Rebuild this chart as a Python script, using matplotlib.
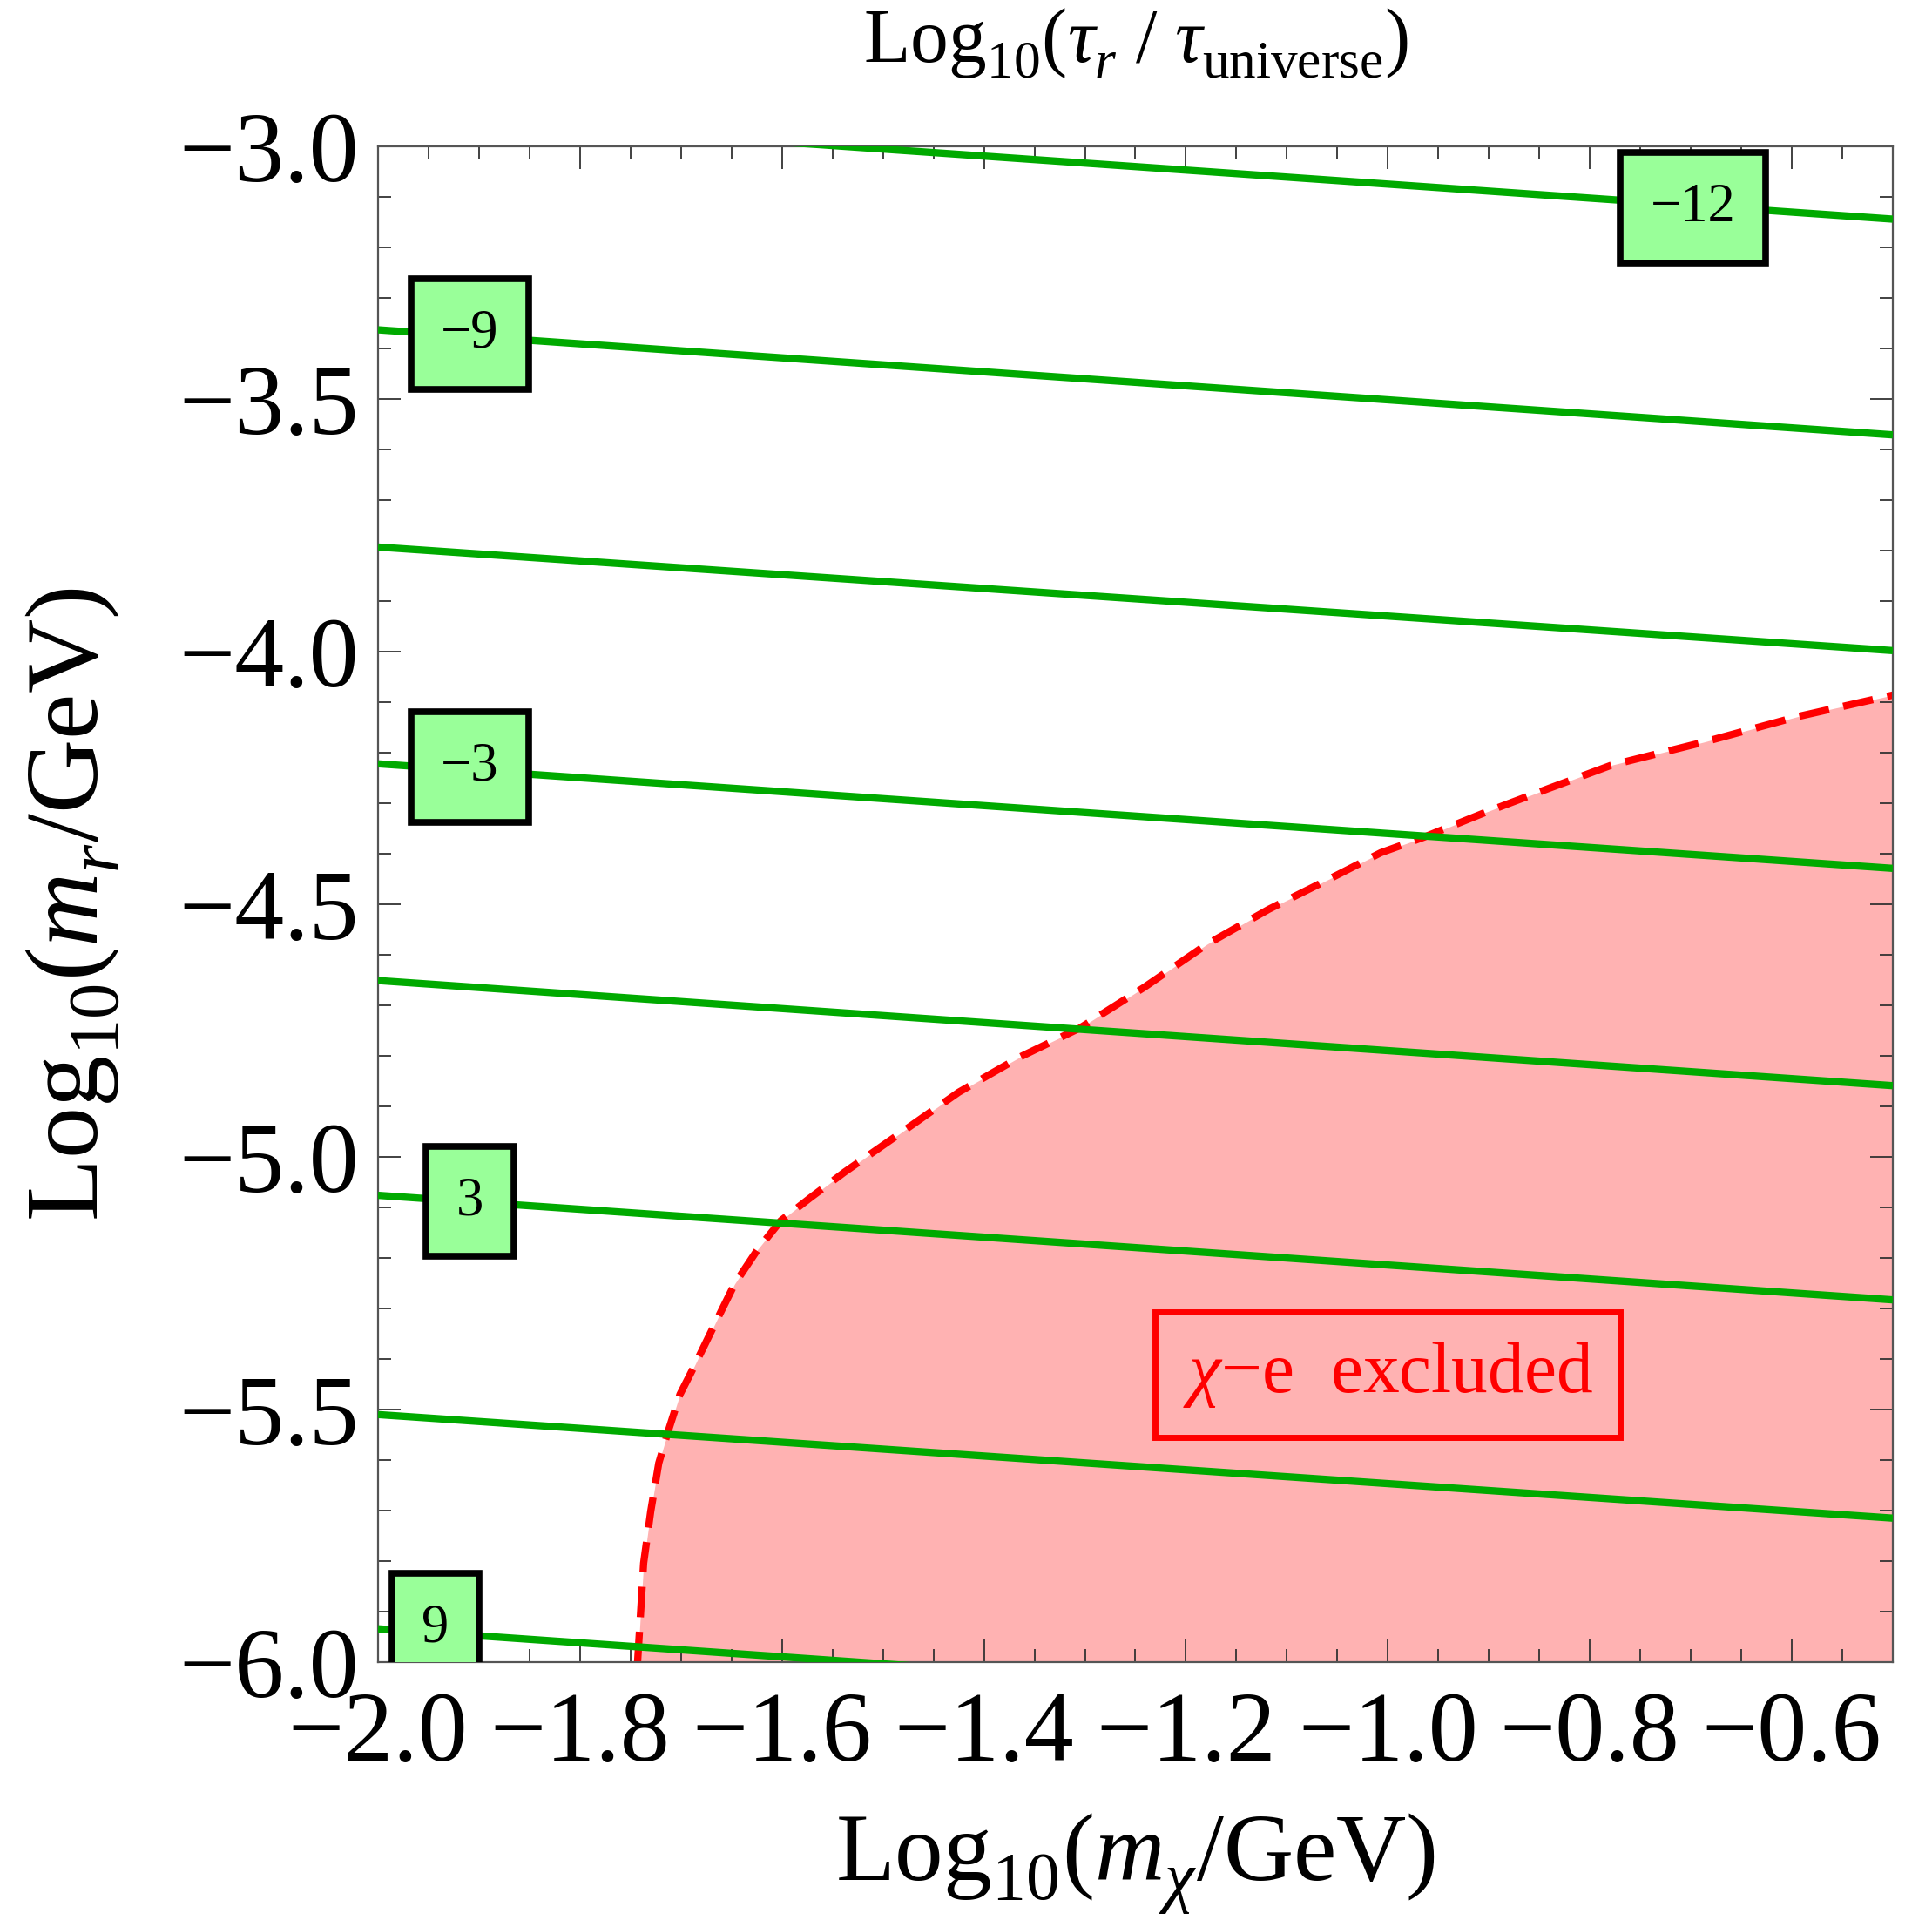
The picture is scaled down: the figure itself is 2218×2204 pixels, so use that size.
import numpy as np
import matplotlib
matplotlib.use("Agg")
import matplotlib.pyplot as plt
from matplotlib.ticker import MultipleLocator, FuncFormatter

plt.rcParams["font.family"] = ["Liberation Serif", "DejaVu Serif"]
plt.rcParams["mathtext.fontset"] = "custom"
plt.rcParams["mathtext.rm"] = "Liberation Serif"
plt.rcParams["mathtext.it"] = "Liberation Serif:italic"
plt.rcParams["mathtext.bf"] = "Liberation Serif:bold"

# Mathematica-style subscripts sit lower than matplotlib's default
try:
    from matplotlib import _mathtext
    _mathtext.FontConstantsBase.sub1 = 0.45
except Exception:
    pass

# ── Data ────────────────────────────────────────────────────────────────────
# contour lines of Log10(tau_r / tau_universe): y at x=-2.0 and at x=-0.5
contour_levels = [-12, -9, -6, -3, 0, 3, 6, 9]
contour_x      = [-2.0, -0.5]
contour_y_left  = [-2.936, -3.363, -3.793, -4.222, -4.651, -5.076, -5.510, -5.934]
contour_y_right = [-3.144, -3.571, -3.998, -4.429, -4.859, -5.283, -5.715, -6.142]

# contour labels (only some levels are labelled)
label_text = ["\u221212", "\u22129", "\u22123", "3", "9"]
label_x    = [-0.698, -1.909, -1.909, -1.909, -1.943]
label_y    = [-3.122, -3.372, -4.229, -5.088, -5.934]

# chi-e exclusion boundary
excl_x = [-1.743, -1.737, -1.730, -1.722, -1.713, -1.701, -1.687, -1.667,
          -1.647, -1.624, -1.601, -1.572, -1.538, -1.492, -1.425, -1.364,
          -1.305, -1.241, -1.179, -1.118, -1.056, -1.007, -0.964, -0.902,
          -0.841, -0.779, -0.687, -0.595, -0.500]
excl_y = [-6.000, -5.804, -5.702, -5.606, -5.545, -5.470, -5.415, -5.333,
          -5.252, -5.183, -5.126, -5.081, -5.030, -4.966, -4.872, -4.802,
          -4.745, -4.664, -4.579, -4.510, -4.448, -4.398, -4.367, -4.317,
          -4.271, -4.225, -4.179, -4.129, -4.086]

GREEN = "#00aa00"
PINK = "#ffb2b2"
LABEL_FILL = "#99ff99"

fig = plt.figure(figsize=(22.18, 22.04), dpi=100)
ax = fig.add_axes([0.19567, 0.13430, 0.78404, 0.78947])

# ── Excluded region ─────────────────────────────────────────────────────────
ax.fill_between(excl_x, excl_y, -6.0, color=PINK, lw=0, zorder=1)
ax.plot(excl_x, excl_y, color="red", lw=6, dashes=(4.2, 2.0), zorder=2)

# ── Contour lines ───────────────────────────────────────────────────────────
for lvl, y0, y1 in zip(contour_levels, contour_y_left, contour_y_right):
    ax.plot(contour_x, [y0, y1], color=GREEN, lw=6, zorder=3,
            solid_capstyle="butt")

for txt, lx, ly in zip(label_text, label_x, label_y):
    ax.text(lx, ly, txt, fontsize=45, ha="center", va="center", zorder=5,
            clip_on=True,
            bbox=dict(boxstyle="square,pad=0.55", fc=LABEL_FILL, ec="black",
                      lw=5.5))

ax.text(-1.0, -5.431, r"$\chi$" + "\u2212e  excluded", fontsize=60,
        color="red", ha="center", va="center", zorder=5,
        bbox=dict(boxstyle="square,pad=0.38", fc="none", ec="red", lw=5))

# ── Axes styling ────────────────────────────────────────────────────────────
ax.set_xlim(-2.0, -0.5)
ax.set_ylim(-6.0, -3.0)

ax.xaxis.set_major_locator(MultipleLocator(0.2))
ax.xaxis.set_minor_locator(MultipleLocator(0.05))
ax.yaxis.set_major_locator(MultipleLocator(0.5))
ax.yaxis.set_minor_locator(MultipleLocator(0.1))
fmt = FuncFormatter(lambda v, pos: f"{v:.1f}".replace("-", "\u2212"))
ax.xaxis.set_major_formatter(fmt)
ax.yaxis.set_major_formatter(fmt)

ax.tick_params(which="both", direction="in", top=True, right=True,
               color="#333333", width=1.3)
ax.tick_params(which="major", length=18.7, labelsize=82)
ax.tick_params(which="minor", length=10.8)
ax.tick_params(axis="x", which="major", pad=24)
ax.tick_params(axis="y", which="major", pad=16)
for sp in ax.spines.values():
    sp.set_color("#555555")
    sp.set_linewidth(1.6)

ax.set_xlabel(r"$\mathrm{Log}_{10}(m_\chi/\mathrm{GeV})$", fontsize=80,
              va="baseline")
ax.xaxis.set_label_coords(0.5, -0.1440)
ax.set_ylabel(r"$\mathrm{Log}_{10}(m_r/\mathrm{GeV})$", fontsize=85,
              va="baseline")
ax.yaxis.set_label_coords(-0.1852, 0.5)
ax.set_title(r"$\mathrm{Log}_{10}(\tau_r\ /\ \tau_{\mathrm{universe}})$",
             fontsize=63, y=1.0506, va="baseline")

fig.savefig("out.png", dpi=100)
